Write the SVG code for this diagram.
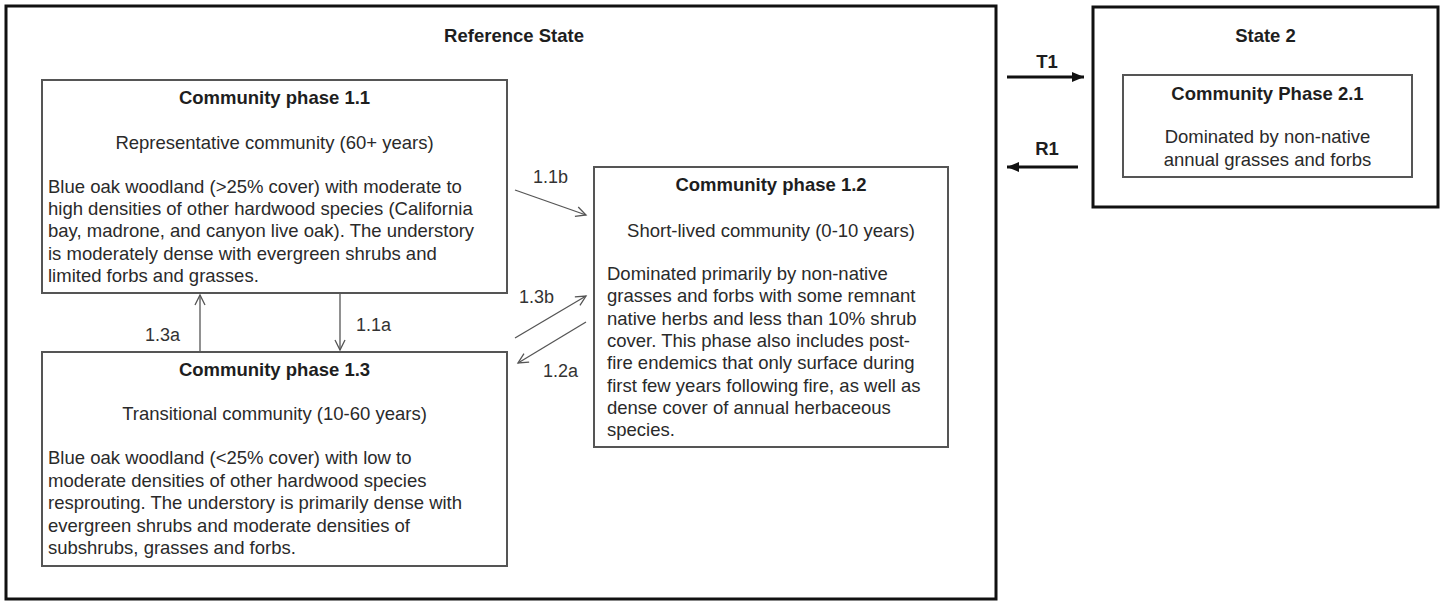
<svg xmlns="http://www.w3.org/2000/svg" width="1446" height="603" viewBox="0 0 1446 603">
<style>
text{font-family:"Liberation Sans",Arial,sans-serif;font-size:18.5px;fill:#2a2a2a}
.b{font-weight:bold;fill:#1e1e1e}
.c{text-anchor:middle}
.lbl{font-size:18px;fill:#333}
.state{fill:none;stroke:#111;stroke-width:3}
.phase{fill:#fff;stroke:#555;stroke-width:2}
.thin{stroke:#555;stroke-width:1.3;fill:none}
.thick{stroke:#111;stroke-width:3;fill:none}
</style>
<defs>
<marker id="open" markerUnits="userSpaceOnUse" markerWidth="14" markerHeight="14" refX="11" refY="6" orient="auto">
<path d="M1,1 L11,6 L1,11" fill="none" stroke="#555" stroke-width="1.3"/>
</marker>
<marker id="solid" markerUnits="userSpaceOnUse" markerWidth="14" markerHeight="12" refX="12" refY="5" orient="auto">
<path d="M0,0 L12,5 L0,10 Z" fill="#111"/>
</marker>
</defs>
<rect width="1446" height="603" fill="#fff"/>

<g id="reference-state">
<rect class="state" x="6" y="6" width="990" height="593"/>
<text class="b c" x="514" y="42">Reference State</text>
</g>

<g id="phase-1-1">
<rect class="phase" x="42" y="80" width="465" height="213"/>
<text class="b c" x="274.5" y="104">Community phase 1.1</text>
<text class="c" x="274.5" y="149">Representative community (60+ years)</text>
<text x="48" y="193">Blue oak woodland (&gt;25% cover) with moderate to</text>
<text x="48" y="215">high densities of other hardwood species (California</text>
<text x="48" y="237">bay, madrone, and canyon live oak). The understory</text>
<text x="48" y="259.5">is moderately dense with evergreen shrubs and</text>
<text x="48" y="281.5">limited forbs and grasses.</text>
</g>

<g id="phase-1-3">
<rect class="phase" x="42" y="352" width="465" height="214"/>
<text class="b c" x="274.5" y="376">Community phase 1.3</text>
<text class="c" x="274.5" y="420">Transitional community (10-60 years)</text>
<text x="48" y="464">Blue oak woodland (&lt;25% cover) with low to</text>
<text x="48" y="486.5">moderate densities of other hardwood species</text>
<text x="48" y="509">resprouting. The understory is primarily dense with</text>
<text x="48" y="531.5">evergreen shrubs and moderate densities of</text>
<text x="48" y="554">subshrubs, grasses and forbs.</text>
</g>

<g id="phase-1-2">
<rect class="phase" x="594" y="167" width="354" height="280"/>
<text class="b c" x="771" y="191">Community phase 1.2</text>
<text class="c" x="771" y="237">Short-lived community (0-10 years)</text>
<text x="607" y="280">Dominated primarily by non-native</text>
<text x="607" y="302">grasses and forbs with some remnant</text>
<text x="607" y="324.5">native herbs and less than 10% shrub</text>
<text x="607" y="347">cover. This phase also includes post-</text>
<text x="607" y="369">fire endemics that only surface during</text>
<text x="607" y="391.5">first few years following fire, as well as</text>
<text x="607" y="413.5">dense cover of annual herbaceous</text>
<text x="607" y="435.5">species.</text>
</g>

<g id="state-2">
<rect class="state" x="1093" y="7" width="345" height="200"/>
<text class="b c" x="1265.5" y="42">State 2</text>
</g>

<g id="phase-2-1">
<rect class="phase" x="1123" y="75" width="289" height="102"/>
<text class="b c" x="1267.5" y="100">Community Phase 2.1</text>
<text class="c" x="1267.5" y="143">Dominated by non-native</text>
<text class="c" x="1267.5" y="166">annual grasses and forbs</text>
</g>

<g id="connectors">
<line class="thin" x1="515" y1="190" x2="586" y2="215" marker-end="url(#open)"/>
<text class="lbl" x="533" y="183">1.1b</text>
<line class="thin" x1="515" y1="338" x2="586" y2="296" marker-end="url(#open)"/>
<text class="lbl" x="519" y="303">1.3b</text>
<line class="thin" x1="586" y1="322" x2="518" y2="363" marker-end="url(#open)"/>
<text class="lbl" x="543" y="377">1.2a</text>
<line class="thin" x1="200" y1="351" x2="200" y2="295" marker-end="url(#open)"/>
<text class="lbl" x="145" y="341">1.3a</text>
<line class="thin" x1="340" y1="294" x2="340" y2="350" marker-end="url(#open)"/>
<text class="lbl" x="356" y="331">1.1a</text>
<line class="thick" x1="1007" y1="77" x2="1084" y2="77" marker-end="url(#solid)"/>
<text class="b c" x="1047" y="68">T1</text>
<line class="thick" x1="1078" y1="167" x2="1007" y2="167" marker-end="url(#solid)"/>
<text class="b c" x="1047" y="155">R1</text>
</g>
</svg>
